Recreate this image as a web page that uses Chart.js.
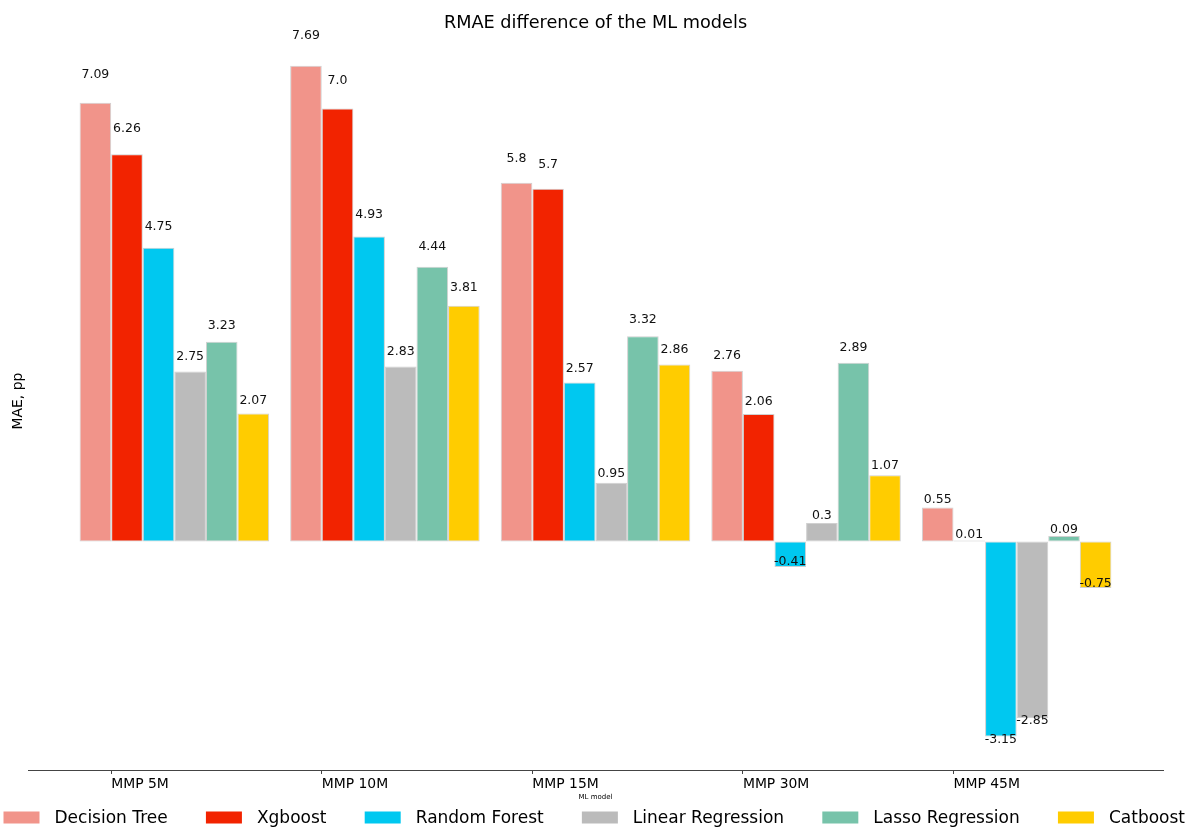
<!DOCTYPE html>
<html>
<head>
<meta charset="utf-8">
<script src="https://cdn.jsdelivr.net/npm/chart.js@4.4.1/dist/chart.umd.min.js"></script>
<style>
  html, body { margin: 0; padding: 0; background: #fff; }
  #wrap { width: 1190px; height: 827px; position: relative; }
</style>
</head>
<body>
<div id="wrap"><canvas id="c" width="1190" height="827"></canvas></div>
<script>
// Model groups along the x axis
const categories = ['MMP 5M', 'MMP 10M', 'MMP 15M', 'MMP 30M', 'MMP 45M'];

// Series names and colours
const modelNames = ['Decision Tree', 'Xgboost', 'Random Forest', 'Linear Regression', 'Lasso Regression', 'Catboost'];
const modelColors = ['#F1948A', '#F22300', '#00C8F0', '#BBBBBB', '#77C3AA', '#FFCC00'];

// RMAE difference per model, one value per group
const decisionTree     = [7.09, 7.69, 5.8, 2.76, 0.55];
const xgboost          = [6.26, 7.0, 5.7, 2.06, 0.01];
const randomForest     = [4.75, 4.93, 2.57, -0.41, -3.15];
const linearRegression = [2.75, 2.83, 0.95, 0.3, -2.85];
const lassoRegression  = [3.23, 4.44, 3.32, 2.89, 0.09];
const catboost         = [2.07, 3.81, 2.86, 1.07, -0.75];

const seriesList = [decisionTree, xgboost, randomForest, linearRegression, lassoRegression, catboost];

// Geometry of the grouped bars in x-axis units
const barUnits = 0.15;
const groupHalf = barUnits * seriesList.length / 2;
const xMargin = 0.05 * (categories.length - 1 + 2 * groupHalf);
const xMin = -groupHalf - xMargin;
const xMax = categories.length - 1 + groupHalf + xMargin;

// Value range with a 5% margin on both ends
const allValues = seriesList.flat();
const vMin = Math.min(0, ...allValues);
const vMax = Math.max(0, ...allValues);
const yPad = 0.05 * (vMax - vMin);

Chart.defaults.font.family = '"DejaVu Sans", sans-serif';
Chart.defaults.color = '#000';

function fmt(v) {
  return Number.isInteger(v) ? v.toFixed(1) : String(v);
}

// Numbers written above (or below) every bar
const valueLabels = {
  id: 'valueLabels',
  afterDatasetsDraw(chart) {
    const ctx = chart.ctx;
    const yScale = chart.scales.y;
    const size = 12.5;
    ctx.save();
    ctx.font = size + 'px "DejaVu Sans"';
    ctx.fillStyle = '#111';
    ctx.textAlign = 'center';
    ctx.textBaseline = 'alphabetic';
    chart.data.datasets.forEach((ds, di) => {
      const meta = chart.getDatasetMeta(di);
      meta.data.forEach((bar, i) => {
        const v = ds.data[i].y;
        const py = yScale.getPixelForValue(v * 1.05) - size * 0.236;
        ctx.fillText(fmt(v), bar.x, py);
      });
    });
    ctx.restore();
  }
};

// One-row legend stretched across the bottom edge
const bottomLegend = {
  id: 'bottomLegend',
  afterDraw(chart) {
    const ctx = chart.ctx;
    const size = 17;
    const boxW = 36, boxH = 12, textGap = 15;
    const left = 3.5, right = chart.width - 5;
    const baseline = chart.height - 3.7;
    ctx.save();
    ctx.font = size + 'px "DejaVu Sans"';
    const items = chart.data.datasets.map(ds => ({
      text: ds.label,
      color: ds.backgroundColor,
      w: boxW + textGap + ctx.measureText(ds.label).width
    }));
    const total = items.reduce((s, it) => s + it.w, 0);
    const gap = (right - left - total) / (items.length - 1);
    let x = left;
    ctx.textBaseline = 'alphabetic';
    ctx.textAlign = 'left';
    items.forEach(it => {
      ctx.fillStyle = it.color;
      ctx.fillRect(x, baseline - 11.8, boxW, boxH);
      ctx.fillStyle = '#000';
      ctx.fillText(it.text, x + boxW + textGap, baseline);
      x += it.w + gap;
    });
    ctx.restore();
  }
};

const datasets = seriesList.map((values, k) => ({
  label: modelNames[k],
  data: values.map((v, i) => ({ x: i, y: v })),
  backgroundColor: modelColors[k],
  borderColor: 'rgba(120,120,120,0.35)',
  borderWidth: 1,
  borderSkipped: false,
  minBarLength: 1,
  categoryPercentage: barUnits * seriesList.length,
  barPercentage: 1.0
}));

new Chart(document.getElementById('c'), {
  type: 'bar',
  data: { datasets },
  options: {
    responsive: false,
    animation: false,
    events: [],
    layout: { padding: { left: 28, right: 27, top: 0, bottom: 26 } },
    plugins: {
      legend: { display: false },
      tooltip: { enabled: false },
      title: {
        display: true,
        text: 'RMAE difference of the ML models',
        color: '#000',
        font: { size: 17.7, weight: 'normal', lineHeight: 1.0 },
        padding: { top: 14.5, bottom: 0 }
      }
    },
    scales: {
      x: {
        type: 'linear',
        min: xMin,
        max: xMax,
        offset: false,
        afterBuildTicks(scale) {
          scale.ticks = categories.map((c, i) => ({ value: i - 2 * barUnits }));
        },
        afterFit(scale) { scale.height = 31; },
        ticks: {
          callback: (value, index) => categories[index],
          align: 'start',
          autoSkip: false,
          maxRotation: 0,
          padding: 2,
          color: '#000',
          font: { size: 13.9 }
        },
        grid: {
          display: true,
          offset: false,
          drawOnChartArea: false,
          drawTicks: true,
          tickLength: 4,
          color: '#444'
        },
        border: { display: true, color: '#444', width: 1 },
        title: {
          display: true,
          text: 'ML model',
          color: '#000',
          font: { size: 7 },
          padding: { top: 0, bottom: 0 }
        }
      },
      y: {
        type: 'linear',
        min: vMin - yPad,
        max: vMax + yPad,
        afterFit(scale) { scale.width = 0; },
        ticks: { display: false },
        grid: { display: false },
        border: { display: false },
        title: {
          display: true,
          text: 'MAE, pp',
          color: '#000',
          font: { size: 13.9 },
          padding: { top: -18.3, bottom: 0 }
        }
      }
    }
  },
  plugins: [valueLabels, bottomLegend]
});
</script>
</body>
</html>
